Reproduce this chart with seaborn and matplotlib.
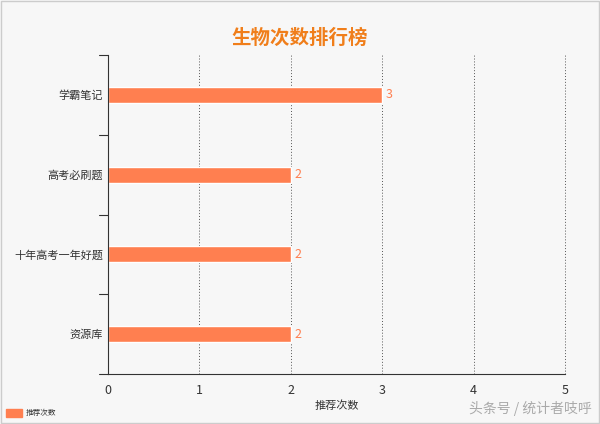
import matplotlib
matplotlib.use('Agg')
import matplotlib.pyplot as plt
import seaborn as sns
import pandas as pd

categories = ['学霸笔记', '高考必刷题', '十年高考一年好题', '资源库']
counts = [3, 2, 2, 2]
series_name = '推荐次数'

sns.set_style('white')
plt.rcParams['font.family'] = ['Noto Sans CJK SC', 'DejaVu Sans']

bg = '#f7f7f7'
bar_color = '#ff7f50'

df = pd.DataFrame({'name': categories, 'value': counts})

fig = plt.figure(figsize=(6, 4.24), dpi=100, facecolor=bg)
ax = fig.add_axes([108/600, 1-374/424, (565-108)/600, (374-55)/424])
ax.set_facecolor(bg)
sns.barplot(data=df, x='value', y='name', color=bar_color, width=0.2,
            saturation=1, ax=ax)

for i, v in enumerate(counts):
    ax.text(v + 0.04, i, str(v), va='center', ha='left', color=bar_color, fontsize=9)

ax.set_xlim(0, 5)
ax.set_ylim(3.5, -0.5)
ax.set_xticks(range(6))
ax.tick_params(axis='x', length=4, labelsize=9, colors='#333333')
ax.tick_params(axis='y', length=0, labelsize=8, colors='#333333')
for b in [-0.5, 0.5, 1.5, 2.5, 3.5]:
    ax.plot([-0.02, 0], [b, b], color='#333333', lw=0.8, clip_on=False, transform=ax.get_yaxis_transform())
for x in range(1, 6):
    ax.axvline(x, color='#555555', lw=0.7, ls=(0, (1, 2)), zorder=0, clip_on=False)
for s in ['top', 'right']:
    ax.spines[s].set_visible(False)
ax.spines['left'].set_color('#333333')
ax.spines['bottom'].set_color('#333333')
ax.set_xlabel('推荐次数', fontsize=8, color='#333333', labelpad=2)
ax.set_ylabel('')

fig.text(0.5, 1-38/424, '生物次数排行榜', ha='center', va='center',
         fontsize=14, fontweight='bold', color='#f07e1a')
fig.patches.append(plt.Rectangle((6/600, 1-417/424), 16/600, 8/424, color=bar_color,
                                 transform=fig.transFigure, figure=fig))
fig.patches.append(plt.Rectangle((0.002, 0.002), 0.996, 0.996, fill=False, ec='#cccccc', lw=1,
                                 transform=fig.transFigure, figure=fig))
fig.text(26/600, 1-413/424, series_name, fontsize=5.5, va='center', color='#333333')
fig.text(592/600, 1-408/424, '头条号 / 统计者吱呼', ha='right', va='center',
         fontsize=10, color='#aaaaaa')

fig.savefig('out.png', dpi=100, facecolor=bg)
